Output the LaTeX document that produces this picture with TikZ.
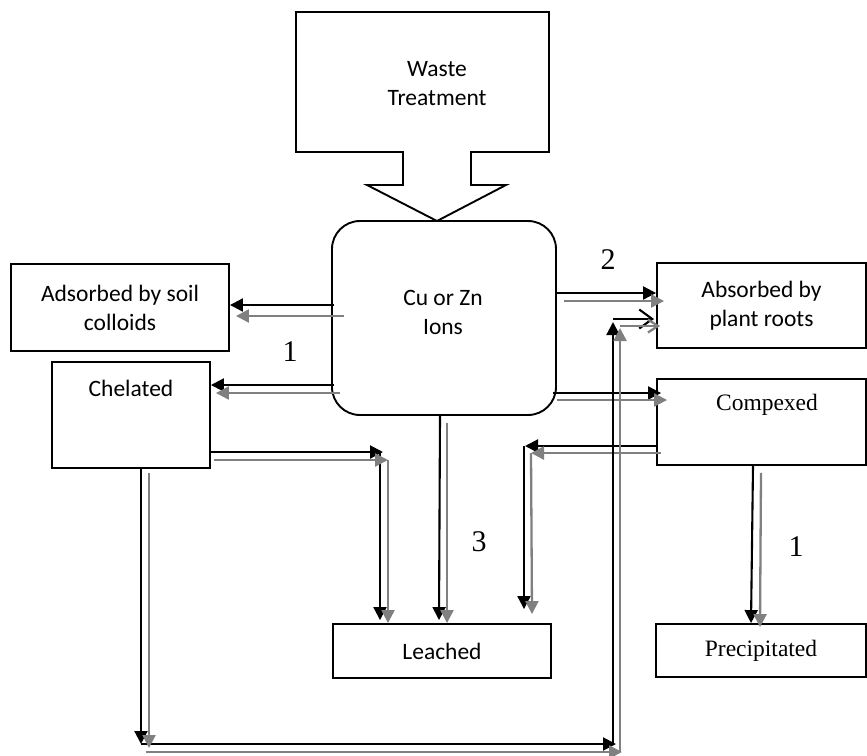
\documentclass[tikz,border=0pt]{standalone}
\usepackage{fontspec}
\newfontfamily\calfont{Carlito}
\newfontfamily\timesfont{Liberation Serif}
\usetikzlibrary{arrows.meta,calc}
\begin{document}
\begin{tikzpicture}[x=1pt,y=-1pt,
  box/.style={draw=black,line width=1.9pt,fill=white,inner sep=0pt,align=center,font=\calfont\fontsize{23.5}{29}\selectfont},
  tbox/.style={box,font=\timesfont\fontsize{23.5}{29}\selectfont},
  caltext/.style={inner sep=0pt,align=center,font=\calfont\fontsize{23.5}{29}\selectfont},
  timtext/.style={inner sep=0pt,align=center,font=\timesfont\fontsize{23.5}{29}\selectfont},
  num/.style={inner sep=0pt,font=\timesfont\fontsize{30}{30}\selectfont},
  bk/.style={draw=black,line width=2.1pt,-{Triangle[length=13pt,width=13pt]}},
  gy/.style={draw=gray,line width=2.3pt,-{Triangle[length=13pt,width=13pt]}},
  bkopen/.style={draw=black,line width=2.1pt,-{Straight Barb[length=13pt,width=19pt,line width=2.1pt]}},
  gyopen/.style={draw=gray,line width=2.3pt,-{Straight Barb[length=10pt,width=13pt,line width=2.3pt]}}
]
\useasboundingbox (0,0) rectangle (867,755);

% Waste treatment callout
\draw[line width=1.9pt,fill=white] (296,12) -- (549,12) -- (549,152) -- (471,152) -- (471,185) -- (506,185)
  -- (437,221) -- (367,185) -- (403,185) -- (403,152) -- (296,152) -- cycle;
\node[caltext] (waste) at (437,84) {Waste\\Treatment};

% boxes
\node[box,rounded corners=28pt,minimum width=224pt,minimum height=194pt] (cu) at (444,318) {};
\node[caltext] (cutext) at (443,312) {Cu or Zn\\Ions};
\node[box,minimum width=218pt,minimum height=87pt] (ads) at (120,307.5) {Adsorbed by soil\\colloids};
\node[box,minimum width=158pt,minimum height=106pt] (chel) at (131,415) {};
\node[caltext] (cheltext) at (131,388) {Chelated};
\node[box,minimum width=209pt,minimum height=85pt] (abs) at (761.5,305.5) {Absorbed by\\plant roots};
\node[tbox,minimum width=209pt,minimum height=86pt] (comp) at (761.5,422) {};
\node[timtext] (comptext) at (767,405) {Compexed};
\node[box,minimum width=218pt,minimum height=54pt] (lea) at (442,651) {Leached};
\node[tbox,minimum width=210pt,minimum height=53pt] (pre) at (761,650.5) {Precipitated};

% labels
\node[num] (n1) at (290,352) {1};
\node[num] (n2) at (608,260) {2};
\node[num] (n3) at (479,542) {3};
\node[num] (n4) at (796,547) {1};

% corner coordinates
\coordinate (fk) at (383,452);
\coordinate (fg) at (388,460);
\coordinate (gk) at (525,446);
\coordinate (gg) at (531,453);
\coordinate (lb) at (141,744);
\coordinate (rb) at (613,744);
\coordinate (rt) at (613,319);
\coordinate (lg) at (149,752);
\coordinate (rg) at (620,752);
\coordinate (tg) at (620,326);

% Cu -> adsorbed
\draw[bk] ($(cu.west)+(3,-13)$) -- ($(ads.east)+(0,-2.5)$);
\draw[gy] ($(cu.west)+(13,-2)$) -- ($(ads.east)+(6,8.5)$);
% Cu -> chelated
\draw[bk] ($(cu.west)+(3,67)$) -- ($(chel.east)+(0,-30)$);
\draw[gy] ($(cu.west)+(9,75)$) -- ($(chel.east)+(5,-22)$);
% Cu -> absorbed
\draw[bk] ($(cu.east)+(0,-25)$) -- ($(abs.west)+(0,-12.5)$);
\draw[gy] ($(cu.east)+(7,-17)$) -- ($(abs.west)+(8,-4.5)$);
% Cu -> compexed
\draw[bk] ($(cu.east)+(-4,75)$) -- ($(comp.west)+(5,-29)$);
\draw[gy] ($(cu.east)+(0,82)$) -- ($(comp.west)+(11,-22)$);
% Cu -> leached
\draw[bk] ($(cu.south)+(-4,0)$) -- ($(lea.north)+(-3,-3)$);
\draw[gy] ($(cu.south)+(3,7)$) -- ($(lea.north)+(5,0)$);
% Chelated -> leached
\draw[bk] ($(chel.east)+(0,37)$) -- (fk);
\draw[bk] ($(fk)+(-3,0)$) -- ($(lea.north)+(-62,-3)$);
\draw[gy] ($(chel.east)+(3,45)$) -- (fg);
\draw[gy] (fg) -- ($(lea.north)+(-54,0)$);
% Compexed -> leached
\draw[bk] ($(comp.west)+(0,24)$) -- (gk);
\draw[bk] ($(gk)+(-1,0)$) -- ($(lea.north)+(82,-14)$);
\draw[gy] ($(comp.west)+(5,31)$) -- (gg);
\draw[gy] (gg) -- ($(lea.north)+(90,-9)$);
% Compexed -> precipitated
\draw[bk] ($(comp.south)+(-8.5,0)$) -- ($(pre.north)+(-10,0)$);
\draw[gy] ($(comp.south)+(-0.5,7)$) -- ($(pre.north)+(-1,4)$);
% Chelated -> absorbed by plant roots (loop)
\draw[bk] ($(chel.south)+(10,0)$) -- (lb);
\draw[bk] (lb) -- ($(rb)+(3,0)$);
\draw[bk] (rb) -- ($(rt)+(0,3)$);
\draw[bkopen] (rt) -- ($(abs.west)+(-2,13.5)$);
\draw[gy] ($(chel.south)+(18,4)$) -- ($(lg)+(0,-4)$);
\draw[gy] ($(lg)+(-3,0)$) -- ($(rg)+(2,0)$);
\draw[gy] (rg) -- ($(tg)+(0,2)$);
\draw[gyopen] (tg) -- ($(abs.west)+(4,20.5)$);
\end{tikzpicture}
\end{document}
